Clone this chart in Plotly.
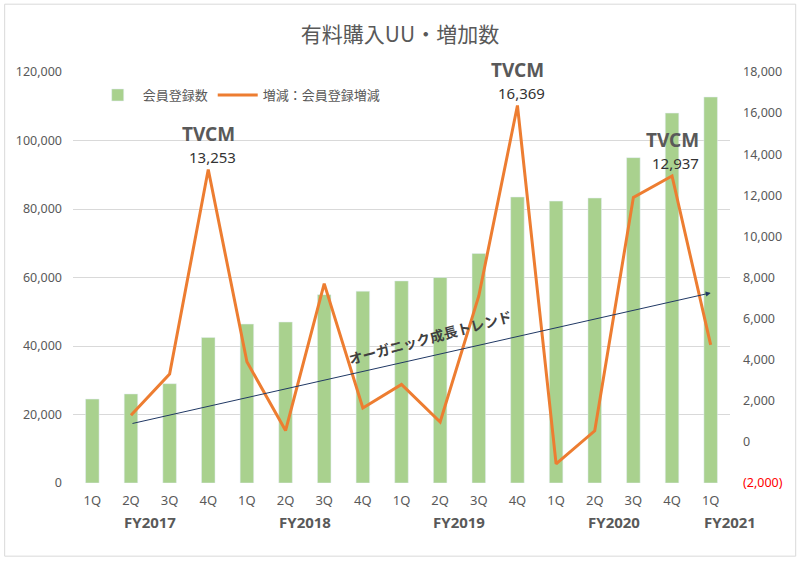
import plotly.graph_objects as go

quarters = ["1Q", "2Q", "3Q", "4Q", "1Q", "2Q", "3Q", "4Q", "1Q", "2Q", "3Q", "4Q",
            "1Q", "2Q", "3Q", "4Q", "1Q"]
fiscal_years = ["FY2017", "FY2018", "FY2019", "FY2020", "FY2021"]
fy_groups = [[0, 1, 2, 3], [4, 5, 6, 7], [8, 9, 10, 11], [12, 13, 14, 15], [16]]
members = [24500, 26000, 29000, 42500, 46400, 47000, 55000, 56000, 59000, 60000,
           67000, 83500, 82300, 83200, 95000, 108000, 112700]
change = [None, 1300, 3300, 13253, 3900, 550, 7700, 1650, 2800, 970, 7100, 16369,
          -1070, 540, 11900, 12937, 4720]
tvcm_idx = [3, 11, 15]
trend_start = (1, 880)
trend_end = (16, 7250)

left_ticks = [0, 20000, 40000, 60000, 80000, 100000, 120000]
right_ticks = list(range(-2000, 18001, 2000))

FONT = "Noto Sans, Noto Sans CJK JP, sans-serif"
GRAY = "#595959"

x = list(range(len(quarters)))

fig = go.Figure()
fig.add_trace(go.Bar(x=x, y=members, name="会員登録数", marker_color="#A9D18E",
                     width=0.35, yaxis="y"))
fig.add_trace(go.Scatter(x=x, y=change, name="増減：会員登録増減", mode="lines",
                         line=dict(color="#ED7D31", width=3), yaxis="y2"))

def fmt(v):
    if v < 0:
        return '<span style="color:#FF0000">(' + f"{-v:,}" + ')</span>'
    return f"{v:,}"

ann = []
for i in tvcm_idx:
    ann.append(dict(x=i, y=change[i], xref="x", yref="y2", text="<b>TVCM</b>",
                    showarrow=False, yshift=36, font=dict(size=19, color=GRAY, family=FONT)))
    ann.append(dict(x=i + 0.1, y=change[i], xref="x", yref="y2", text=f"{change[i]:,}",
                    showarrow=False, yshift=13, font=dict(size=15, color="#333333", family=FONT)))
for fy, g in zip(fiscal_years, fy_groups):
    ann.append(dict(x=sum(g) / len(g) + (0.5 if len(g) == 1 else 0), y=-0.095, xref="x", yref="paper",
                    text=f"<b>{fy}</b>", showarrow=False, yanchor="middle",
                    font=dict(size=15, color=GRAY, family=FONT)))
ann.append(dict(x=trend_end[0], y=trend_end[1], ax=trend_start[0], ay=trend_start[1],
                xref="x", yref="y2", axref="x", ayref="y2", text="", showarrow=True,
                arrowhead=2, arrowsize=1, arrowwidth=1, arrowcolor="#203864"))
ann.append(dict(x=8.75, y=5100, xref="x", yref="y2", text="<b>オーガニック成長トレンド</b>",
                showarrow=False, textangle=-15, font=dict(size=14, color="#404040",
                                                          family="Noto Sans CJK JP")))

fig.update_layout(
    width=800, height=561,
    margin=dict(l=73, r=70, t=72, b=78),
    paper_bgcolor="white", plot_bgcolor="white",
    title=dict(text="有料購入UU・増加数", x=0.5, xanchor="center", y=0.938, yanchor="middle",
               font=dict(size=21, color=GRAY, family="Noto Sans CJK JP")),
    font=dict(family=FONT, color=GRAY),
    showlegend=True,
    legend=dict(orientation="h", x=0.03, y=0.944, xanchor="left", yanchor="middle",
                bgcolor="rgba(0,0,0,0)", itemwidth=40,
                font=dict(size=13, color=GRAY, family="Noto Sans CJK JP")),
    xaxis=dict(range=[-0.5, len(quarters) - 0.5], tickvals=x, ticktext=quarters,
               showgrid=False, zeroline=False, showline=False, ticks="",
               tickfont=dict(size=13, color=GRAY), ticklabelstandoff=8),
    yaxis=dict(range=[0, 120000], tickvals=left_ticks, ticktext=[f"{v:,}" for v in left_ticks],
               showgrid=True, gridcolor="#D9D9D9", gridwidth=1, zeroline=False,
               tickfont=dict(size=12.5, color=GRAY), ticks="", ticklabelstandoff=10),
    yaxis2=dict(range=[-2000, 18000], tickvals=right_ticks, ticktext=[fmt(v) for v in right_ticks],
                overlaying="y", side="right", showgrid=False, zeroline=False,
                tickfont=dict(size=12.5, color=GRAY), ticks="", ticklabelstandoff=12),
    annotations=ann,
    bargap=0.6,
    shapes=[dict(type="rect", xref="paper", yref="paper", x0=-0.104, x1=1.100, y0=-0.178, y1=1.165,
                 line=dict(color="#D9D9D9", width=1), fillcolor="rgba(0,0,0,0)", layer="below")],
)

fig.write_html("out.html", config={"displayModeBar": False},
               post_script="document.body.style.margin='0';document.body.style.overflow='hidden';")
